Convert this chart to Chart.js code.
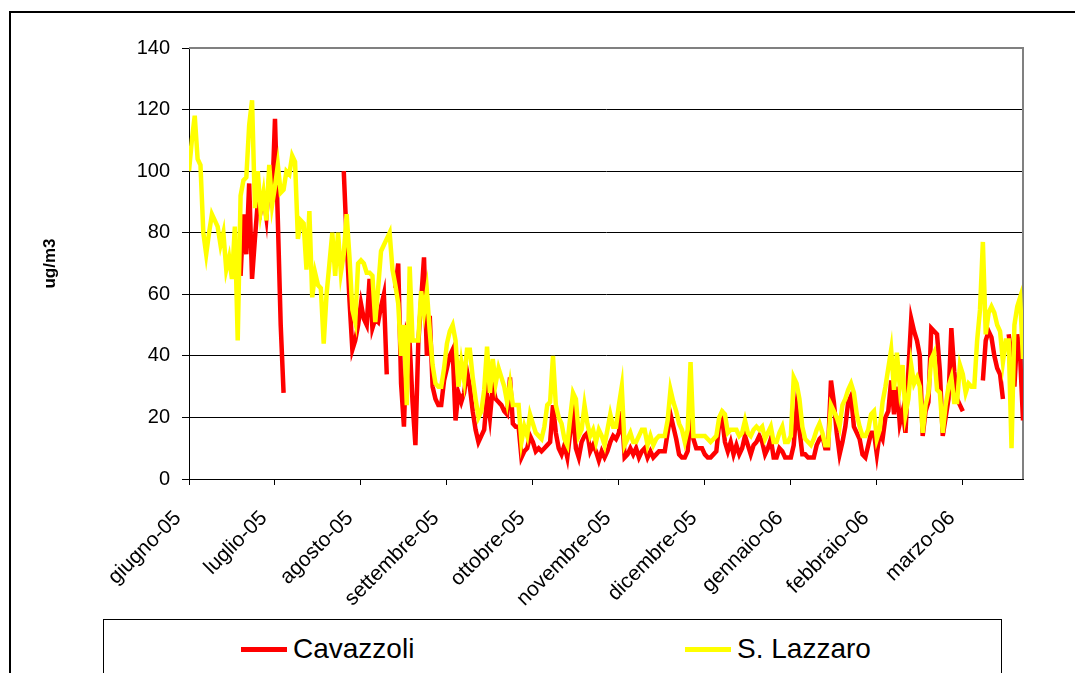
<!DOCTYPE html>
<html>
<head>
<meta charset="utf-8">
<script src="https://cdn.jsdelivr.net/npm/chart.js@4.4.1/dist/chart.umd.min.js"></script>
<style>
  body { margin: 0; background: #fff; }
  #wrap { position: relative; width: 1075px; height: 673px; overflow: hidden; font-family: "Liberation Sans", Arial, sans-serif; }
  #chart { position: absolute; left: 0; top: 0; }
  #frame { position: absolute; left: 9px; top: 11px; width: 1100px; height: 700px; border: 2px solid #000; }
  #legend { position: absolute; left: 103px; top: 619px; width: 897px; height: 80px; border: 1px solid #000; background: #fff; }
  .swatch { position: absolute; top: 647px; width: 46px; height: 5px; }
  .lbl { position: absolute; top: 635px; font-size: 28px; line-height: 28px; color: #000; white-space: nowrap; }
</style>
</head>
<body>
<div id="wrap">
  <canvas id="chart" width="1075" height="673"></canvas>
  <div id="frame"></div>
  <div id="legend"></div>
  <div class="swatch" style="left:241px;background:#ff0000"></div>
  <div class="lbl" style="left:293px">Cavazzoli</div>
  <div class="swatch" style="left:685px;background:#ffff00"></div>
  <div class="lbl" style="left:737px">S. Lazzaro</div>
</div>
<script>
// etichette dei mesi (una ogni 30 giorni)
const monthLabels = ['giugno-05', 'luglio-05', 'agosto-05', 'settembre-05', 'ottobre-05',
  'novembre-05', 'dicembre-05', 'gennaio-06', 'febbraio-06', 'marzo-06'];

// valori giornalieri ug/m3, dal 1 giugno 2005
const cavazzoli = [
  null, null, null, null, null, null, null, null, null, null,
  null, null, null, null, null, null, null, null, 66, 86,
  73, 96, 65, 78, 90, 87, 92, 85, 98, 90,
  117, 84, 50, 28, null, null, null, null, null, null,
  null, null, null, null, null, null, null, null, null, null,
  null, null, null, null, 100, 78, 58, 42, 45, 50,
  57, 52, 50, 65, 49, 52, 51, 56, 60, 34,
  null, null, 62, 70, 31, 17, 47, 44, 25, 11,
  44, 58, 72, 40, 53, 30, 26, 24, 24, 32,
  36, 40, 42, 19, 28, 25, 28, 35, 30, 22,
  16, 12, 14, 16, 27, 20, 30, 26, 25, 24,
  22, 21, 33, 18, 17, 17, 7, 9, 10, 14,
  12, 9, 10, 9, 10, 11, 12, 24, 15, 10,
  8, 11, 7, 15, 22, 10, 7, 12, 14, 15,
  9, 11, 9, 6, 9, 7, 9, 12, 14, 13,
  15, 22, 7, 8, 10, 8, 10, 7, 9, 10,
  7, 9, 7, 8, 9, 9, 9, 15, 21, 17,
  13, 8, 7, 7, 9, 21, 13, 10, 10, 10,
  8, 7, 7, 8, 9, 18, 20, 12, 9, 12,
  8, 11, 8, 10, 14, 11, 8, 11, 12, 14,
  12, 8, 10, 13, 7, 7, 10, 9, 7, 7,
  7, 11, 23, 16, 8, 8, 7, 7, 7, 11,
  13, 14, 10, 10, 32, 25, 15, 8, 12, 17,
  25, 27, 17, 15, 13, 8, 7, 11, 15, 15,
  8, 15, 13, 20, 22, 32, 21, 30, 18, 22,
  15, 35, 52, 48, 45, 40, 14, 22, 25, 49,
  48, 47, 35, 14, 20, 26, 49, 35, 26, 24,
  22, null, null, null, null, null, null, 32, 45, 48,
  46, 40, 36, 34, 26, null, 47, 40, 30, 47,
  40, 19
];

const sLazzaro = [
  100, 110, 118, 104, 102, 80, 73, 80, 86, 84,
  82, 76, 80, 68, 72, 65, 82, 45, 92, 97,
  98, 115, 123, 88, 100, 87, 93, 84, 102, 89,
  95, 102, 93, 94, 100, 99, 105, 103, 78, 84,
  83, 68, 87, 59, 67, 63, 62, 44, 60, 70,
  80, 66, 80, 67, 73, 86, 72, 55, 51, 70,
  71, 70, 67, 67, 66, 51, 62, 74, 76, 78,
  80, 68, 63, 57, 40, 50, 24, 69, 45, 45,
  45, 61, 54, 61, 48, 37, 31, 30, 30, 36,
  44, 48, 50, 45, 30, 38, 32, 42, 42, 33,
  26, 20, 22, 29, 43, 28, 39, 31, 36, 33,
  30, 25, 31, 24, 24, 24, 12, 17, 14, 21,
  18, 15, 14, 13, 17, 24, 25, 40, 24, 20,
  18, 13, 11, 20, 28, 26, 14, 16, 24, 18,
  14, 16, 12, 16, 14, 11, 16, 21, 17, 17,
  24, 30, 11, 13, 15, 12, 12, 14, 16, 16,
  11, 14, 11, 13, 14, 14, 14, 19, 29, 25,
  22, 18, 16, 12, 16, 38, 14, 14, 14, 14,
  14, 13, 12, 13, 14, 20, 22, 21, 15, 16,
  16, 16, 14, 15, 19, 15, 14, 16, 17, 16,
  17, 13, 15, 17, 12, 12, 15, 17, 12, 12,
  14, 33, 31, 26, 17, 13, 12, 11, 13, 16,
  18, 15, 11, 11, 24, 22, 20, 17, 24, 26,
  29, 31, 28, 21, 17, 14, 14, 16, 21, 22,
  13, 16, 25, 30, 36, 42, 29, 41, 30, 37,
  21, 26, 37, 31, 33, 30, 15, 24, 28, 39,
  41, 29, 28, 15, 24, 30, 33, 25, 25, 37,
  34, 28, 31, 30, 30, 45, 55, 77, 47, 54,
  56, 54, 50, 48, 38, 45, 45, 10, 50, 56,
  59, 39
];

const yTicks = [0, 20, 40, 60, 80, 100, 120, 140];
const FONT = '"Liberation Sans", Arial, sans-serif';

const toPoints = arr => arr.map((v, i) => ({ x: i, y: v }));

// bordo grigio sopra e a destra dell'area del grafico
const plotFrame = {
  id: 'plotFrame',
  beforeDatasetsDraw(chart) {
    const { ctx, chartArea: a } = chart;
    ctx.save();
    ctx.strokeStyle = '#808080';
    ctx.lineWidth = 2;
    ctx.beginPath();
    ctx.moveTo(a.left, a.top);
    ctx.lineTo(a.right, a.top);
    ctx.lineTo(a.right, a.bottom);
    ctx.stroke();
    ctx.restore();
  }
};

new Chart(document.getElementById('chart'), {
  type: 'line',
  data: {
    datasets: [
      {
        label: 'Cavazzoli',
        data: toPoints(cavazzoli),
        borderColor: '#ff0000',
        borderWidth: 4.5,
        pointRadius: 0,
        order: 2
      },
      {
        label: 'S. Lazzaro',
        data: toPoints(sLazzaro),
        borderColor: '#ffff00',
        borderWidth: 4.5,
        pointRadius: 0,
        order: 1
      }
    ]
  },
  options: {
    responsive: false,
    animation: false,
    events: [],
    spanGaps: false,
    layout: { padding: { left: 0, top: 48, right: 52, bottom: 0 } },
    plugins: {
      legend: { display: false },
      tooltip: { enabled: false }
    },
    scales: {
      x: {
        type: 'linear',
        min: 0,
        max: cavazzoli.length - 1,
        afterBuildTicks: scale => {
          scale.ticks = monthLabels.map((m, k) => ({ value: k * 30 }));
        },
        afterFit: scale => { scale.height = 194; },
        grid: { drawOnChartArea: false, color: '#000', tickLength: 6 },
        border: { color: '#000', width: 1 },
        ticks: {
          autoSkip: false,
          maxRotation: 45,
          minRotation: 45,
          padding: 21,
          labelOffset: -11,
          color: '#000',
          font: { family: FONT, size: 21 },
          callback: value => monthLabels[Math.round(value / 30)]
        }
      },
      y: {
        min: 0,
        max: 140,
        afterBuildTicks: scale => {
          scale.ticks = yTicks.map(v => ({ value: v }));
        },
        afterFit: scale => { scale.width = 189; },
        grid: { color: '#000', tickLength: 7 },
        border: { color: '#000', width: 1 },
        ticks: {
          padding: 12,
          color: '#000',
          font: { family: FONT, size: 20 }
        },
        title: {
          display: true,
          text: 'ug/m3',
          color: '#000',
          padding: { top: 40, bottom: 0 },
          font: { family: FONT, size: 17, weight: 'bold' }
        }
      }
    }
  },
  plugins: [plotFrame]
});
</script>
</body>
</html>
